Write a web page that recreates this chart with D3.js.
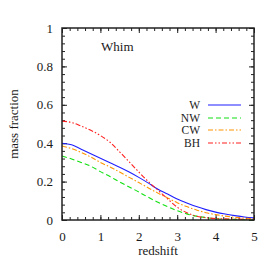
<!DOCTYPE html>
<html>
<head>
<meta charset="utf-8">
<script src="https://cdn.jsdelivr.net/npm/d3@7"></script>
<style>
  body { margin: 0; background: #fff; }
  svg text { font-family: "Times New Roman", Times, "Liberation Serif", "DejaVu Serif"; fill: #1a1a1a; font-size: 13px; }
</style>
</head>
<body>
<div id="chart"></div>
<script>
// redshift grid and mass fractions
const redshift = [0, 0.25, 0.5, 0.75, 1, 1.25, 1.5, 1.75, 2, 2.25, 2.5, 2.75, 3, 3.25, 3.5, 3.75, 4, 4.25, 4.5, 4.75, 5];
const W  = [0.400, 0.392, 0.368, 0.345, 0.322, 0.298, 0.275, 0.250, 0.222, 0.192, 0.160, 0.135, 0.110, 0.089, 0.070, 0.054, 0.041, 0.031, 0.023, 0.016, 0.011];
const CW = [0.385, 0.372, 0.352, 0.328, 0.300, 0.276, 0.250, 0.222, 0.195, 0.167, 0.140, 0.115, 0.090, 0.070, 0.052, 0.038, 0.028, 0.020, 0.014, 0.010, 0.007];
const NW = [0.333, 0.318, 0.300, 0.280, 0.252, 0.226, 0.198, 0.172, 0.146, 0.118, 0.092, 0.070, 0.048, 0.032, 0.020, 0.012, 0.007, 0.004, 0.003, 0.002, 0.001];
const BH = [0.515, 0.508, 0.489, 0.467, 0.440, 0.405, 0.355, 0.303, 0.250, 0.200, 0.155, 0.110, 0.067, 0.038, 0.020, 0.012, 0.008, 0.006, 0.005, 0.004, 0.003];

const xTicks = [0, 1, 2, 3, 4, 5];
const yTicks = [0, 0.2, 0.4, 0.6, 0.8, 1];

const series = [
    { name: 'W',  values: W,  color: '#1f1fff', dash: null },
    { name: 'NW', values: NW, color: '#10e010', dash: '5,3' },
    { name: 'CW', values: CW, color: '#ff9400', dash: '5,2,1.5,2' },
    { name: 'BH', values: BH, color: '#ff1f1f', dash: '5,2,1.5,2,1.5,2' }
];

const width = 274;
const height = 274;
const margin = { top: 28, right: 20, bottom: 54, left: 62 };

const svg = d3.select('#chart').append('svg')
    .attr('width', width)
    .attr('height', height);

const xScale = d3.scaleLinear()
    .domain([0, 5])
    .range([margin.left, width - margin.right]);

const yScale = d3.scaleLinear()
    .domain([0, 1])
    .range([height - margin.bottom, margin.top]);

// inward ticks on all four sides
const xMinor = d3.range(0, 5.001, 0.2);
const yMinor = d3.range(0, 1.0001, 0.04);

function tickAxis(axis, offset) {
    const g = svg.append('g').attr('transform', offset).call(axis)
        .attr('font-family', null)
        .attr('font-size', null);
    g.select('.domain').remove();
    g.selectAll('line').attr('stroke', '#222').attr('stroke-width', 1);
    g.selectAll('text').attr('fill', null);
    return g;
}

tickAxis(d3.axisBottom(xScale).tickValues(xMinor).tickSize(-3).tickFormat(''), `translate(0,${height - margin.bottom})`);
tickAxis(d3.axisTop(xScale).tickValues(xMinor).tickSize(-3).tickFormat(''), `translate(0,${margin.top})`);
tickAxis(d3.axisLeft(yScale).tickValues(yMinor).tickSize(-3).tickFormat(''), `translate(${margin.left},0)`);
tickAxis(d3.axisRight(yScale).tickValues(yMinor).tickSize(-3).tickFormat(''), `translate(${width - margin.right},0)`);

tickAxis(d3.axisTop(xScale).tickValues(xTicks).tickSize(-5).tickFormat(''), `translate(0,${margin.top})`);
tickAxis(d3.axisRight(yScale).tickValues(yTicks).tickSize(-5).tickFormat(''), `translate(${width - margin.right},0)`);

tickAxis(d3.axisBottom(xScale).tickValues(xTicks).tickSize(-5).tickPadding(12).tickFormat(d3.format('d')),
    `translate(0,${height - margin.bottom})`);

tickAxis(d3.axisLeft(yScale).tickValues(yTicks).tickSize(-5).tickPadding(9)
    .tickFormat(d => d === 0 || d === 1 ? d3.format('d')(d) : d3.format('.1f')(d)),
    `translate(${margin.left},0)`);

// lines
const line = d3.line()
    .x((d, i) => xScale(redshift[i]))
    .y(d => yScale(d))
    .curve(d3.curveMonotoneX);

svg.selectAll('.series')
    .data(series)
    .enter().append('path')
    .attr('class', 'series')
    .attr('d', d => line(d.values))
    .attr('fill', 'none')
    .attr('stroke', d => d.color)
    .attr('stroke-width', 1.1)
    .attr('stroke-dasharray', d => d.dash);

// frame
svg.append('rect')
    .attr('x', margin.left)
    .attr('y', margin.top)
    .attr('width', width - margin.left - margin.right)
    .attr('height', height - margin.top - margin.bottom)
    .attr('fill', 'none')
    .attr('stroke', '#222')
    .attr('stroke-width', 1.5);

// legend
const legend = svg.append('g').attr('transform', 'translate(200, 105)');
series.forEach((s, i) => {
    const y = Math.round(i * 12.7);
    legend.append('text')
        .attr('x', 0)
        .attr('y', y + 4)
        .style('text-anchor', 'end')
        .style('font-size', '11.5px')
        .text(s.name);
    legend.append('line')
        .attr('x1', 8).attr('x2', 41)
        .attr('y1', y).attr('y2', y)
        .attr('stroke', s.color)
        .attr('stroke-width', 1.2)
        .attr('stroke-dasharray', s.dash);
});

// labels
svg.append('text')
    .attr('x', 101)
    .attr('y', 51)
    .text('Whim');

svg.append('text')
    .attr('x', xScale(2.5))
    .attr('y', 255)
    .style('text-anchor', 'middle')
    .text('redshift');

svg.append('text')
    .attr('transform', 'rotate(-90)')
    .attr('x', -yScale(0.5))
    .attr('y', 18)
    .style('text-anchor', 'middle')
    .text('mass fraction');
</script>
</body>
</html>
